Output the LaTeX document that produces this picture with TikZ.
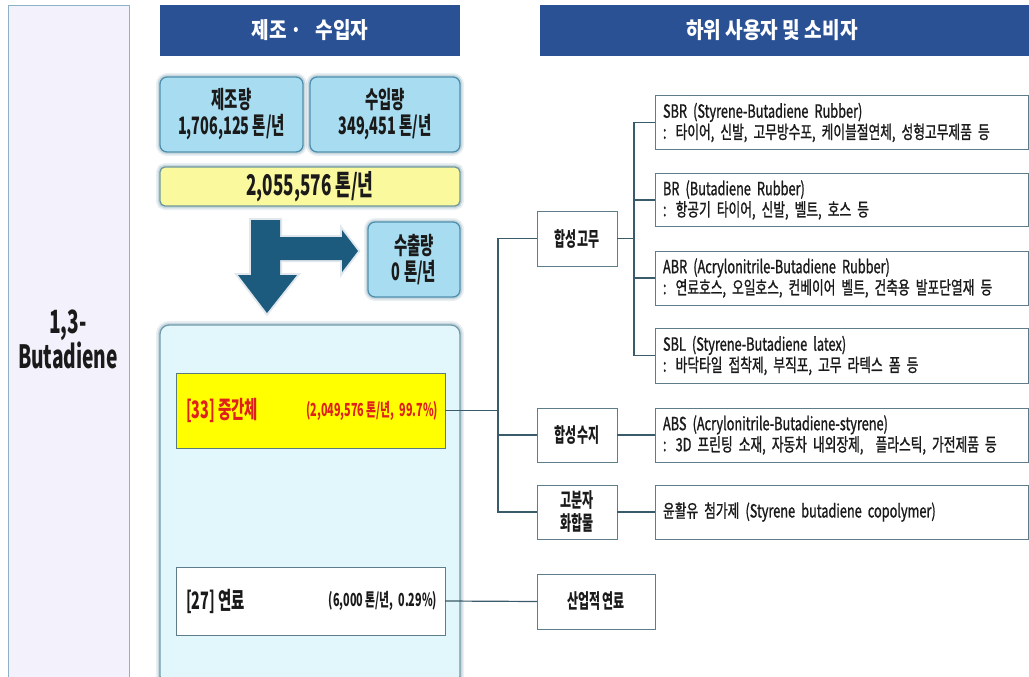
\documentclass[tikz,border=0pt]{standalone}
\usepackage{fontspec}
\newfontfamily\kr{Noto Sans CJK KR}[FakeStretch=0.85]
\newfontfamily\krm{Noto Sans CJK KR}[FakeStretch=0.7, FakeBold=1]
\newfontfamily\krc{Noto Sans CJK KR}[FakeStretch=0.6]
\definecolor{hdrblue}{HTML}{2B5195}
\definecolor{arrowc}{HTML}{1D5B7E}
\definecolor{lfill}{HTML}{A8DDF1}
\definecolor{lbord}{HTML}{4F8FAD}
\definecolor{glowc}{HTML}{2F6A88}
\definecolor{bigfill}{HTML}{E1F7FB}
\definecolor{bigbord}{HTML}{7199AA}
\definecolor{leftfill}{HTML}{F3F2FC}
\definecolor{leftbord}{HTML}{8DB1C8}
\definecolor{ylight}{HTML}{FBF99E}
\definecolor{ybord}{HTML}{6E979D}
\definecolor{yhot}{HTML}{FFFF00}
\definecolor{boxbord}{HTML}{5E7C8A}
\definecolor{linec}{HTML}{3A5B69}
\definecolor{redtxt}{HTML}{E0201A}
\definecolor{txt}{HTML}{1A1A1A}
\begin{document}
\begin{tikzpicture}[x=1pt,y=-1pt,
  every node/.style={inner sep=0pt, outer sep=0pt},
  hdr/.style={fill=hdrblue, text=white, font=\kr\bfseries\fontsize{22.5}{26}\selectfont, minimum height=51pt},
  lbox/.style={draw=lbord, line width=1.3pt, fill=lfill, rounded corners=7pt, align=center,
    font=\krc\bfseries\fontsize{24}{26}\selectfont, text=txt,
    preaction={draw=glowc, line width=8pt, opacity=0.10},
    preaction={draw=glowc, line width=4.5pt, opacity=0.18}},
  sqbox/.style={draw=boxbord, line width=1pt, fill=white, align=center,
    font=\krc\bfseries\fontsize{20}{23}\selectfont, text=txt},
  usebox/.style={draw=boxbord, line width=1pt, fill=white, anchor=west,
    minimum width=373pt, minimum height=53pt, text width=357pt, inner xsep=8pt, align=left,
    font=\krm\fontsize{18.2}{21}\selectfont, text=txt},
  conn/.style={draw=linec, line width=1.2pt},
  inbox/.style={line width=1pt, minimum width=269pt}
]
\fill[white] (0,0) rectangle (1029,677);
\useasboundingbox (0,0) rectangle (1029,677);

% left column
\draw[fill=leftfill, draw=leftbord, line width=1pt] (8,6) rectangle (129,690);
\node[font=\krc\bfseries\fontsize{32}{33}\selectfont, align=center, text=txt] (bd) at (68,339) {1,3-\\Butadiene};

% headers
\node[hdr, minimum width=300pt] (h1) at (310,30.5) {제조 ·\ \ \ 수입자};
\node[hdr, minimum width=492pt] (h2) at (786,30.5) {\hbox{하위 사용자 및 소비자\hspace*{28pt}}};

% supply boxes
\node[lbox, minimum width=143pt, minimum height=75pt] (mfg) at (231.5,114.5) {제조량\\1,706,125 톤/년};
\node[lbox, minimum width=150pt, minimum height=75pt] (imp) at (385,114.5) {수입량\\349,451 톤/년};
\node[lbox, fill=ylight, draw=ybord, rounded corners=5pt, minimum width=300pt, minimum height=39pt,
  font=\krc\bfseries\fontsize{28.5}{30}\selectfont] (tot) at (310,186.5) {2,055,576 톤/년};
\node[lbox, minimum width=92pt, minimum height=75pt] (exp) at (414,259.5) {수출량\\0 톤/년};

% arrow
\fill[arrowc, preaction={draw=glowc, line width=4pt, opacity=0.15}]
  (251,220) -- (280,220) -- (280,237) -- (342,237) -- (342,230) -- (358,251) -- (342,272)
  -- (342,260) -- (280,260) -- (280,275) -- (297,275) -- (267,313) -- (238,275) -- (251,275) -- cycle;

% use box
\node[lbox, fill=bigfill, draw=bigbord, rounded corners=9pt, minimum width=300pt, minimum height=360pt] (big) at (310,505) {};
\node[inbox, draw=ybord!80!black, fill=yhot, minimum height=75pt] (inter) at (310.5,410.5) {};
\node[anchor=west, text=redtxt, font=\krc\bfseries\fontsize{24}{26}\selectfont] (interL) at ([xshift=10pt]inter.west) {[33] 중간체};
\node[anchor=east, text=redtxt, font=\krc\bfseries\fontsize{18}{20}\selectfont] (interR) at ([xshift=-7pt]inter.east) {(2,049,576 톤/년,\ \ 99.7\%)};
\node[inbox, draw=boxbord, fill=white, minimum height=68pt] (fuel) at (310.5,601) {};
\node[anchor=west, text=txt, font=\krc\bfseries\fontsize{24}{26}\selectfont] (fuelL) at ([xshift=10pt]fuel.west) {[27] 연료};
\node[anchor=east, text=txt, font=\krc\bfseries\fontsize{18}{20}\selectfont] (fuelR) at ([xshift=-8pt]fuel.east) {(6,000 톤/년,\ \ 0.29\%)};

% category boxes
\node[sqbox, minimum width=80pt, minimum height=55pt] (rubber) at (577,238.5) {합성고무};
\node[sqbox, minimum width=80pt, minimum height=54pt] (resin) at (577,435) {합성수지};
\node[sqbox, minimum width=80pt, minimum height=54pt, font=\krc\bfseries\fontsize{20}{23}\selectfont] (poly) at (577,512) {고분자\\화합물};
\node[sqbox, minimum width=118pt, minimum height=55pt] (ind) at (596,601.5) {산업적 연료};

% product boxes
\node[usebox] (sbr) at (655,122.5) {SBR (Styrene-Butadiene Rubber)\\: 타이어, 신발, 고무방수포, 케이블절연체, 성형고무제품 등};
\node[usebox] (br) at (655,200) {BR (Butadiene Rubber)\\: 항공기 타이어, 신발, 벨트, 호스 등};
\node[usebox, minimum height=54pt] (abr) at (655,278) {ABR (Acrylonitrile-Butadiene Rubber)\\: 연료호스, 오일호스, 컨베이어 벨트, 건축용 발포단열재 등};
\node[usebox, minimum height=55pt] (sbl) at (655,355.5) {SBL (Styrene-Butadiene latex)\\: 바닥타일 접착제, 부직포, 고무 라텍스 폼 등};
\node[usebox, minimum height=54pt] (abs) at (655,435) {ABS (Acrylonitrile-Butadiene-styrene)\\: 3D 프린팅 소재, 자동차 내외장제,\ \ 플라스틱, 가전제품 등};
\node[usebox, minimum height=54pt] (lub) at (655,512) {윤활유 첨가제 (Styrene butadiene copolymer)};

% connectors
\coordinate (t1) at (498,0);
\coordinate (t2) at (634,0);
\draw[conn] (inter.east) -- (inter.east -| t1);
\draw[conn] (rubber.west) -- (rubber.west -| t1) -- (poly.west -| t1) -- (poly.west);
\draw[conn] (resin.west) -- (resin.west -| t1);
\draw[conn] (rubber.east) -- (rubber.east -| t2);
\draw[conn] (sbr.west) -- (sbr.west -| t2) -- (sbl.west -| t2) -- (sbl.west);
\draw[conn] (br.west) -- (br.west -| t2);
\draw[conn] (abr.west) -- (abr.west -| t2);
\draw[conn] (resin.east) -- (abs.west);
\draw[conn] (poly.east) -- (lub.west);
\draw[conn] (fuel.east) -- (ind.west);
\end{tikzpicture}
\end{document}
